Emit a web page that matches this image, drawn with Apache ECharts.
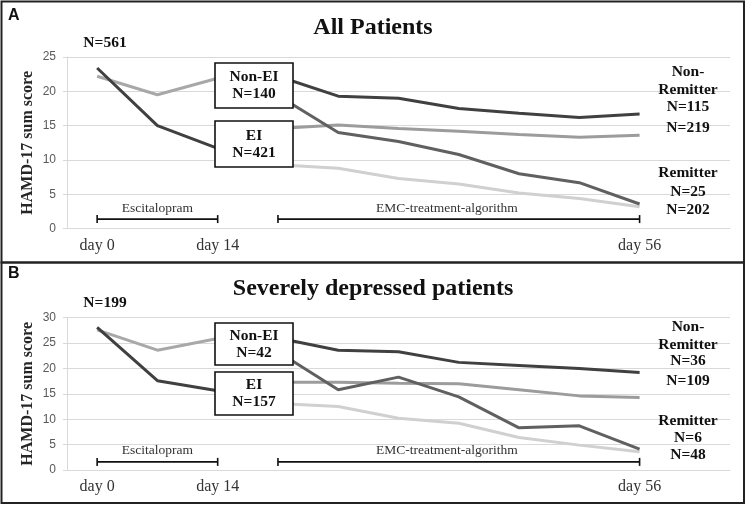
<!DOCTYPE html>
<html>
<head>
<meta charset="utf-8">
<script src="https://cdn.jsdelivr.net/npm/echarts@6/dist/echarts.min.js"></script>
<style>
  html, body { margin: 0; padding: 0; background: #fff; }
  #main { width: 747px; height: 506px; }
</style>
</head>
<body>
<div id="main"></div>
<script>
// tick labels of the shared x axis (11 slots, last one is empty room for labels)
const xLabels = ['day 0', '', 'day 14', '', '', '', '', '', '', 'day 56', ''];

// Panel A - all patients (slots 0-2: first phase, 3-9: algorithm phase)
const allPreEI = [23.4, 15.0, 11.7];
const allPreNonEI = [22.2, 19.5, 21.9];
const allNonEINonRem = [22.2, 19.3, 19.0, 17.5, 16.8, 16.2, 16.7];
const allEINonRem = [14.6, 15.1, 14.6, 14.2, 13.7, 13.3, 13.6];
const allNonEIRem = [19.4, 14.0, 12.7, 10.8, 8.0, 6.7, 3.6];
const allEIRem = [9.3, 8.8, 7.3, 6.5, 5.2, 4.4, 3.2];

// Panel B - severely depressed patients
const sevPreEI = [28.1, 17.6, 15.6];
const sevPreNonEI = [27.6, 23.6, 25.9];
const sevNonEINonRem = [26.0, 23.6, 23.3, 21.2, 20.6, 20.0, 19.2];
const sevEINonRem = [17.3, 17.3, 17.1, 17.0, 15.8, 14.6, 14.3];
const sevNonEIRem = [23.3, 15.8, 18.3, 14.4, 8.3, 8.7, 4.1];
const sevEIRem = [13.1, 12.5, 10.2, 9.2, 6.4, 4.9, 3.6];

// treatment phase brackets (slot ranges) and their height per panel
const phases = [
    { name: 'Escitalopram', from: 0, to: 2 },
    { name: 'EMC-treatment-algorithm', from: 3, to: 9 }
];
const phaseY = [1.4, 1.6];

const SERIF = '"Liberation Serif", "Times New Roman", serif';
const DARK = '#404040', MIDDARK = '#606060', MID = '#9c9c9c', LIGHT = '#a8a8a8', PALE = '#d0d0d0';

function pad(values, start) {
    let out = [];
    for (let i = 0; i < xLabels.length; i++) {
        let j = i - start;
        out.push(j >= 0 && j < values.length ? values[j] : '-');
    }
    return out;
}

function lineSeries(values, start, color, gi) {
    return {
        type: 'line',
        xAxisIndex: gi,
        yAxisIndex: gi,
        data: pad(values, start),
        symbol: 'none',
        lineStyle: { color: color, width: 3 },
        z: 3,
        animation: false
    };
}

function bracketSeries(phase, gi, labelOffset) {
    let mid = Math.round((phase.from + phase.to) / 2);
    let data = [];
    for (let i = 0; i < xLabels.length; i++) {
        if (i < phase.from || i > phase.to) {
            data.push('-');
        } else {
            let item = { value: phaseY[gi] };
            // inner points get an invisible symbol so the label can still sit on one
            if (i !== phase.from && i !== phase.to) item.symbolSize = 0;
            if (i === mid) {
                item.label = {
                    show: true, position: 'top', distance: 4, offset: labelOffset,
                    formatter: phase.name, color: '#333', fontFamily: SERIF, fontSize: 13.5
                };
            }
            data.push(item);
        }
    }
    return {
        type: 'line',
        xAxisIndex: gi,
        yAxisIndex: gi,
        data: data,
        symbol: 'rect',
        symbolSize: [1.6, 8],
        showAllSymbol: true,
        itemStyle: { color: '#111' },
        lineStyle: { color: '#111', width: 1.6 },
        z: 4,
        animation: false
    };
}

function yAxis(gi, max) {
    return {
        type: 'value',
        gridIndex: gi,
        min: 0, max: max, interval: 5,
        name: 'HAMD-17 sum score',
        nameLocation: 'middle',
        nameGap: 31,
        nameMoveOverlap: false,
        nameTextStyle: { fontFamily: SERIF, fontWeight: 'bold', fontSize: 16, color: '#262626' },
        axisLine: { show: true, lineStyle: { color: '#d9d9d9' } },
        axisTick: { show: true, length: 4, lineStyle: { color: '#d9d9d9' } },
        axisLabel: { margin: 11, color: '#595959', fontFamily: '"Liberation Sans", Arial, sans-serif', fontSize: 12 },
        splitLine: { lineStyle: { color: '#d9d9d9', width: 1 } }
    };
}

function xAxis(gi) {
    return {
        type: 'category',
        gridIndex: gi,
        data: xLabels.map((l, i) => String(i)),
        boundaryGap: true,
        axisLine: { lineStyle: { color: '#d9d9d9' } },
        axisTick: { show: false },
        axisLabel: {
            interval: 0, margin: 9,
            formatter: (v, i) => xLabels[i],
            color: '#333', fontFamily: SERIF, fontSize: 16
        }
    };
}

function txt(x, y, text, size, bold, extra) {
    return Object.assign({
        type: 'text', x: x, y: y, z: 100,
        style: {
            text: text, fill: '#111', align: 'center', verticalAlign: 'middle',
            font: (bold ? 'bold ' : '') + size + 'px ' + SERIF
        }
    }, extra || {});
}

function box(x, y, w, h, lines) {
    return [
        { type: 'rect', z: 100, shape: { x: x, y: y, width: w, height: h },
          style: { fill: '#fff', stroke: '#111', lineWidth: 1.6 } },
        txt(x + w / 2, y + h / 2, lines, 15, true, { z: 101, style: {
            text: lines, fill: '#111', align: 'center', verticalAlign: 'middle',
            lineHeight: 17, font: 'bold 15.5px ' + SERIF } })
    ];
}

let series = [
    lineSeries(allPreNonEI, 0, LIGHT, 0),
    lineSeries(allPreEI, 0, DARK, 0),
    lineSeries(allEIRem, 3, PALE, 0),
    lineSeries(allEINonRem, 3, MID, 0),
    lineSeries(allNonEIRem, 3, MIDDARK, 0),
    lineSeries(allNonEINonRem, 3, DARK, 0),
    bracketSeries(phases[0], 0, [0, 0]),
    bracketSeries(phases[1], 0, [-12, 0]),
    lineSeries(sevPreNonEI, 0, LIGHT, 1),
    lineSeries(sevPreEI, 0, DARK, 1),
    lineSeries(sevEIRem, 3, PALE, 1),
    lineSeries(sevEINonRem, 3, MID, 1),
    lineSeries(sevNonEIRem, 3, MIDDARK, 1),
    lineSeries(sevNonEINonRem, 3, DARK, 1),
    bracketSeries(phases[0], 1, [0, 0]),
    bracketSeries(phases[1], 1, [-12, 0])
];

let graphics = [
    // panel frames
    { type: 'rect', z: 90, shape: { x: 1.5, y: 1.5, width: 742.5, height: 261 },
      style: { fill: 'none', stroke: '#222', lineWidth: 2 } },
    { type: 'rect', z: 90, shape: { x: 1.5, y: 262.5, width: 742.5, height: 240.5 },
      style: { fill: 'none', stroke: '#222', lineWidth: 2 } },
    { type: 'text', x: 8, y: 16, z: 100, style: { text: 'A', fill: '#111', verticalAlign: 'middle', font: 'bold 16px "Liberation Sans", Arial, sans-serif' } },
    { type: 'text', x: 8, y: 274, z: 100, style: { text: 'B', fill: '#111', verticalAlign: 'middle', font: 'bold 16px "Liberation Sans", Arial, sans-serif' } },
    txt(373, 28, 'All Patients', 24, true),
    txt(373, 289, 'Severely depressed patients', 24, true),
    txt(105, 43, 'N=561', 15.5, true),
    txt(105, 303, 'N=199', 15.5, true),
    // right-hand group labels, panel A
    txt(688, 72, 'Non-', 15.5, true),
    txt(688, 90, 'Remitter', 15.5, true),
    txt(688, 107, 'N=115', 15.5, true),
    txt(688, 128, 'N=219', 15.5, true),
    txt(688, 173, 'Remitter', 15.5, true),
    txt(688, 192, 'N=25', 15.5, true),
    txt(688, 210, 'N=202', 15.5, true),
    // panel B
    txt(688, 327, 'Non-', 15.5, true),
    txt(688, 345, 'Remitter', 15.5, true),
    txt(688, 361, 'N=36', 15.5, true),
    txt(688, 381, 'N=109', 15.5, true),
    txt(688, 421, 'Remitter', 15.5, true),
    txt(688, 438, 'N=6', 15.5, true),
    txt(688, 455, 'N=48', 15.5, true)
].concat(
    box(215, 63, 78, 45, 'Non-EI\nN=140'),
    box(215, 121, 78, 46, 'EI\nN=421'),
    box(215, 323, 78, 42, 'Non-EI\nN=42'),
    box(215, 372, 78, 43, 'EI\nN=157')
);

let chart = echarts.init(document.getElementById('main'));
chart.setOption({
    animation: false,
    backgroundColor: '#fff',
    grid: [
        { left: 67, top: 57, width: 663, height: 171.7 },
        { left: 67, top: 317.7, width: 663, height: 152.3 }
    ],
    xAxis: [xAxis(0), xAxis(1)],
    yAxis: [yAxis(0, 25), yAxis(1, 30)],
    series: series,
    graphic: graphics
});
</script>
</body>
</html>
